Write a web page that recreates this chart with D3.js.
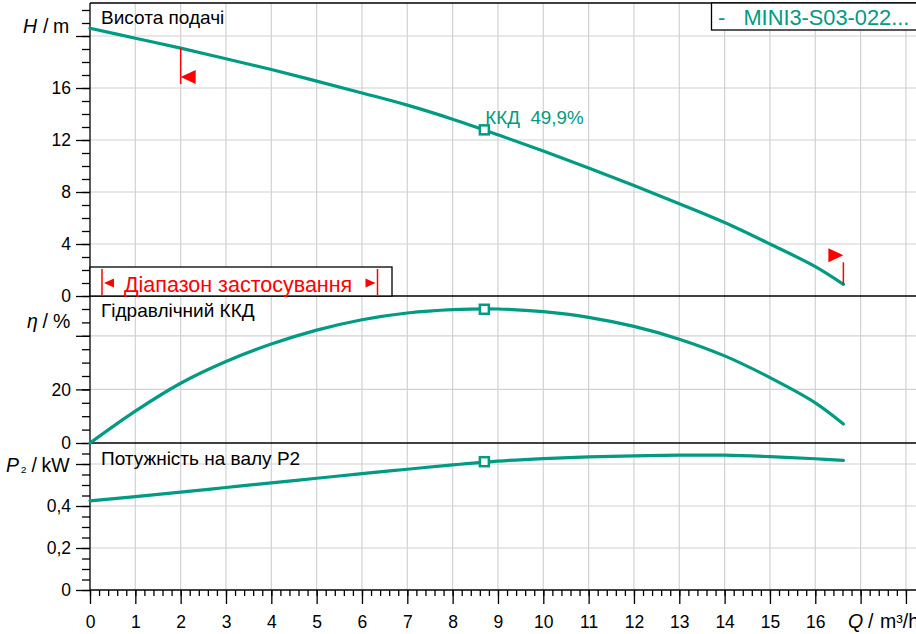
<!DOCTYPE html>
<html><head><meta charset="utf-8">
<script src="https://cdn.jsdelivr.net/npm/d3@7"></script>
<style>
body{margin:0;background:#fff}
svg text{font-family:"Liberation Sans",Arial,sans-serif}
</style>
</head><body>
<svg id="c" width="916" height="634"></svg>
<script>
// ---- data ----
const flow       = [0,1,2,3,4,5,6,7,8,9,10,11,12,13,14,15,16,16.62];
const head       = [20.6,19.83,19.07,18.25,17.42,16.53,15.62,14.68,13.6,12.4,11.15,9.85,8.5,7.1,5.65,4.0,2.26,0.9];
const efficiency = [0,11.9,22.3,30.4,36.9,42.1,46,48.5,49.75,50,49,46.9,43.5,38.75,32.5,24.4,15,7.1];
const power      = [0.424,0.445,0.466,0.488,0.510,0.532,0.554,0.575,0.596,0.614,0.626,0.634,0.639,0.642,0.642,0.635,0.625,0.617];
const dutyPoint  = {q: 8.7, h: 12.78, eta: 49.9, p: 0.611};
const rangeMin = 2.0, rangeMax = 16.62;
const xTickLabels = [0,1,2,3,4,5,6,7,8,9,10,11,12,13,14,15,16];
const hTickLabels = [0,4,8,12,16];
const etaTickLabels = [0,20];
const pTickLabels = [0,0.2,0.4];
const legendText = "-   MINI3-S03-022...";
const titleHead = "Висота подачі";
const titleEta = "Гідравлічний ККД";
const titlePower = "Потужність на валу P2";
const rangeText = "Діапазон застосування";
const dutyText = "ККД  49,9%";

// ---- layout ----
const W = 916, L = 90;
const teal = "#009b82", red = "#ff0000", grid = "#d2d2d2";
const svg = d3.select("#c");
svg.append("rect").attr("width",916).attr("height",634).attr("fill","#fff");

const x = d3.scaleLinear().domain([0,18]).range([L, L + 45.33*18]);
const yH = d3.scaleLinear().domain([0,22.5]).range([296, 3.5]);
const yE = d3.scaleLinear().domain([0,54.85]).range([443, 296]);
const yP = d3.scaleLinear().domain([0,0.7]).range([590, 443]);

const fmtComma = d => String(d).replace(".", ",");

// gridlines
const g = svg.append("g");
d3.range(1,19).forEach(q => g.append("line").attr("x1",x(q)).attr("x2",x(q)).attr("y1",3).attr("y2",590).attr("stroke",grid).attr("stroke-width",1.2));
[4,8,12,16,20].forEach(v => g.append("line").attr("x1",L).attr("x2",W).attr("y1",yH(v)).attr("y2",yH(v)).attr("stroke",grid).attr("stroke-width",1.2));
[20,40].forEach(v => g.append("line").attr("x1",L).attr("x2",W).attr("y1",yE(v)).attr("y2",yE(v)).attr("stroke",grid).attr("stroke-width",1.2));
[0.2,0.4,0.6].forEach(v => g.append("line").attr("x1",L).attr("x2",W).attr("y1",yP(v)).attr("y2",yP(v)).attr("stroke",grid).attr("stroke-width",1.2));

// panel titles
const title = (t, yb) => svg.append("text").attr("x",101).attr("y",yb).attr("font-size",19).attr("fill","#000").text(t);
title(titleHead, 23.5);
title(titleEta, 316.5);
title(titlePower, 464.5);

// frame lines
const blk = (x1,y1,x2,y2,w) => svg.append("line").attr("x1",x1).attr("y1",y1).attr("x2",x2).attr("y2",y2).attr("stroke","#000").attr("stroke-width",w||1.3);
blk(L,3,W,3);
blk(L,296,W,296);
blk(L,443,W,443);

// axes helper
function leftAxis(scale, minor, major, labels, fmt){
  const gm = svg.append("g").attr("transform",`translate(${L},0)`)
    .call(d3.axisLeft(scale).tickValues(minor).tickSize(8).tickFormat(""));
  gm.select(".domain").remove();
  const gM = svg.append("g").attr("transform",`translate(${L},0)`)
    .call(d3.axisLeft(scale).tickValues(major).tickSize(14).tickPadding(5)
      .tickFormat(d => labels.some(l => Math.abs(l-d)<1e-9) ? fmt(d) : ""));
  gM.select(".domain").remove();
  [gm,gM].forEach(a => { a.selectAll("line").attr("stroke","#000").attr("stroke-width",1.3);
    a.selectAll("text").attr("font-size",17.5).attr("fill","#000").attr("font-family",null); });
}
leftAxis(yH, d3.range(0,23,1), [0,4,8,12,16,20], hTickLabels, d => d);
leftAxis(yE, d3.range(0,55,5), [0,20,40], etaTickLabels, d => d);
leftAxis(yP, d3.range(0,0.66,0.05).map(v=>+v.toFixed(2)), [0,0.2,0.4,0.6], pTickLabels, fmtComma);

// bottom axis
const bm = svg.append("g").attr("transform","translate(0,590)")
  .call(d3.axisBottom(x).tickValues(d3.range(0,18.01,0.2).map(v=>+v.toFixed(1))).tickSize(6).tickFormat(""));
bm.select(".domain").remove();
const bM = svg.append("g").attr("transform","translate(0,590)")
  .call(d3.axisBottom(x).tickValues(d3.range(0,19,1)).tickSize(14).tickPadding(12)
    .tickFormat(d => xTickLabels.includes(d) ? d : ""));
bM.select(".domain").remove();
[bm,bM].forEach(a => { a.selectAll("line").attr("stroke","#000").attr("stroke-width",1.3);
  a.selectAll("text").attr("font-size",17.5).attr("fill","#000").attr("font-family",null); });
blk(L,590,W,590);
blk(L,3,L,590);

// axis unit labels (pieces placed individually)
function unitLabel(yb, parts){
  parts.forEach(p => {
    const t = svg.append("text").attr("x",p.x).attr("y",yb + (p.dy||0)).attr("font-size",p.size||19.5).attr("fill","#000").text(p.t);
    if (p.it) t.attr("font-style","italic");
  });
}
unitLabel(32.5, [{x:23,t:"H",it:true},{x:43,t:"/"},{x:53,t:"m"}]);
unitLabel(327.5, [{x:27,t:"η",it:true},{x:42.5,t:"/"},{x:53,t:"%"}]);
unitLabel(472, [{x:6,t:"P",it:true},{x:20.5,t:"₂",size:16},{x:31.5,t:"/"},{x:41.5,t:"kW"}]);
unitLabel(628, [{x:848,t:"Q",it:true},{x:868,t:"/"},{x:880,t:"m³/h"}]);

// application range box
svg.append("rect").attr("x",L).attr("y",267).attr("width",302).attr("height",29)
  .attr("fill","#fff").attr("stroke","#000").attr("stroke-width",1.3);
const rx1 = 102, rx2 = 377.5;
svg.append("line").attr("x1",rx1).attr("x2",rx1).attr("y1",269).attr("y2",295).attr("stroke",red).attr("stroke-width",1.5);
svg.append("line").attr("x1",rx2).attr("x2",rx2).attr("y1",269).attr("y2",295).attr("stroke",red).attr("stroke-width",1.5);
svg.append("path").attr("d",`M${rx1+2},283 L${rx1+12},278.5 L${rx1+12},287.5 Z`).attr("fill",red);
svg.append("path").attr("d",`M${rx2-2},283 L${rx2-12},278.5 L${rx2-12},287.5 Z`).attr("fill",red);
svg.append("text").attr("x",124).attr("y",291.5).attr("font-size",21.5).attr("fill",red).text(rangeText);

// legend box
svg.append("rect").attr("x",711.5).attr("y",3).attr("width",220).attr("height",27)
  .attr("fill","#fff").attr("stroke","#000").attr("stroke-width",1.3);
svg.append("text").attr("x",718).attr("y",24.5).attr("font-size",21.8).attr("fill",teal).style("white-space","pre").text(legendText);

// curves
const pts = a => flow.map((q,i) => [q, a[i]]);
const drawCurve = (arr, ys) => svg.append("path")
  .attr("d", d3.line().x(d => x(d[0])).y(d => ys(d[1])).curve(d3.curveCatmullRom.alpha(0.5))(pts(arr)))
  .attr("fill","none").attr("stroke",teal).attr("stroke-width",3.2).attr("stroke-linecap","round");
drawCurve(head, yH);
drawCurve(efficiency, yE);
drawCurve(power, yP);

// range markers on head curve
const hAt = q => { const i = d3.bisectLeft(flow, q); if (flow[i]===q) return head[i];
  const t=(q-flow[i-1])/(flow[i]-flow[i-1]); return head[i-1]+t*(head[i]-head[i-1]); };
const xa = x(rangeMin), ya = yH(hAt(rangeMin));
svg.append("line").attr("x1",xa).attr("x2",xa).attr("y1",ya).attr("y2",ya+36).attr("stroke",red).attr("stroke-width",1.5);
svg.append("path").attr("d",`M${xa},${ya+29} L${xa+15},${ya+22} L${xa+15},${ya+36} Z`).attr("fill",red);
const xb = x(rangeMax), yb = yH(hAt(rangeMax));
svg.append("line").attr("x1",xb).attr("x2",xb).attr("y1",yb).attr("y2",yb-22).attr("stroke",red).attr("stroke-width",1.5);
svg.append("path").attr("d",`M${xb},${yb-29} L${xb-15},${yb-36} L${xb-15},${yb-22} Z`).attr("fill",red);

// duty point markers
[[yH,dutyPoint.h],[yE,dutyPoint.eta],[yP,dutyPoint.p]].forEach(([s,v]) => {
  svg.append("rect").attr("x",x(dutyPoint.q)-4.5).attr("y",s(v)-4.5).attr("width",9).attr("height",9)
    .attr("fill","#fff").attr("stroke",teal).attr("stroke-width",2.5);
});
svg.append("text").attr("x",x(dutyPoint.q)+1).attr("y",yH(dutyPoint.h)-6).attr("font-size",18.8)
  .attr("fill",teal).style("white-space","pre").text(dutyText);
</script>
</body></html>
